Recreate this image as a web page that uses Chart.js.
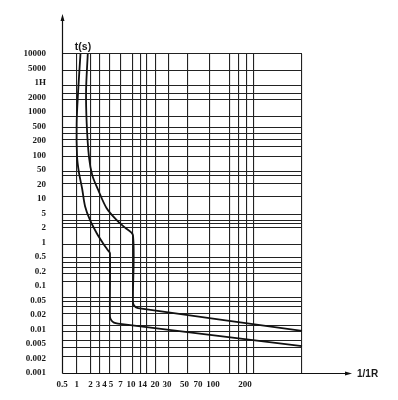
<!DOCTYPE html>
<html>
<head>
<meta charset="utf-8">
<script src="https://cdn.jsdelivr.net/npm/chart.js@4/dist/chart.umd.min.js"></script>
<style>
  html, body { margin: 0; padding: 0; background: #fff; }
  canvas { display: block; }
</style>
</head>
<body>
<canvas id="curva" width="398" height="400"></canvas>
<script>
// tick labels as printed on the sheet
const xLabels = ['0.5', '1', '2', '3', '4', '5', '7', '10', '14', '20', '30', '50', '70', '100', '200'];
const xValues = [0.5, 1, 2, 3, 4, 5, 7, 10, 14, 20, 30, 50, 70, 100, 200];
const yLabels = ['0.001', '0.002', '0.005', '0.01', '0.02', '0.05', '0.1', '0.2', '0.5', '1', '2', '5',
                 '10', '20', '50', '100', '200', '500', '1000', '2000', '1H', '5000', '10000'];
const yValues = [0.001, 0.002, 0.005, 0.01, 0.02, 0.05, 0.1, 0.2, 0.5, 1, 2, 5,
                 10, 20, 50, 100, 200, 500, 1000, 2000, 3600, 5000, 10000];

// left curve (multiple of In, seconds)
const curvaB_I = [1.21, 1.08, 1.0, 1.02, 1.12, 1.31, 1.52, 1.95, 2.8, 3.74, 4.5, 4.83, 4.83, 5.09, 5.56, 6.4, 1000];
const curvaB_t = [10000, 2670, 579, 96, 43, 16.7, 7.1, 3.27, 1.56, 0.97, 0.69, 0.6, 0.0185, 0.0153, 0.0139, 0.0133, 0.0044];

// right curve
const curvaC_I = [1.74, 1.6, 1.65, 1.85, 2.2, 3.04, 4.31, 6.12, 8.16, 10.6, 10.6, 11.1, 12.3, 1000];
const curvaC_t = [10000, 2670, 579, 92.7, 35.6, 15.2, 6.42, 3.27, 2.04, 1.41, 0.045, 0.035, 0.031, 0.0094];

// the printed x axis is not a clean log scale: where each label sits along the width
const xKnotValues = xValues.concat([1000]);
const xKnotPos = [0, 0.061, 0.119, 0.150, 0.177, 0.204, 0.244, 0.2875, 0.335, 0.3875, 0.4375, 0.51, 0.567, 0.629, 0.7625, 1];
const yKnotPos = yValues.map((v, i) => i / (yValues.length - 1));

// printed grid (fraction of width / height)
const xGrid = [0.0625, 0.119, 0.158, 0.2, 0.242, 0.294, 0.327, 0.352, 0.39, 0.442, 0.523, 0.615, 0.7, 0.735, 0.77, 0.8, 1];
const yGrid = [0.051, 0.080, 0.103, 0.129, 0.150, 0.187, 0.208, 0.223, 0.237, 0.288, 0.313, 0.332, 0.347, 0.362,
               0.404, 0.456, 0.470, 0.479, 0.497, 0.552, 0.594, 0.620, 0.633, 0.679, 0.711, 0.732, 0.752, 0.771,
               0.804, 0.857, 0.877, 0.901, 0.948, 1];

function warpDecimal(v, vals, pos) {
    const lv = Math.log(v);
    for (let i = 0; i < vals.length - 1; i++) {
        const a = Math.log(vals[i]), b = Math.log(vals[i + 1]);
        if (lv <= b || i === vals.length - 2) {
            return pos[i] + (pos[i + 1] - pos[i]) * (lv - a) / (b - a);
        }
    }
}

class WarpScale extends Chart.LinearScale {
    static id = 'warp';
    static defaults = {};
    determineDataLimits() {
        const k = this.options.knotValues;
        this.min = k[0];
        this.max = k[k.length - 1];
    }
    buildTicks() {
        return this.options.tickValues.map(v => ({ value: v }));
    }
    getPixelForValue(v) {
        return this.getPixelForDecimal(warpDecimal(v, this.options.knotValues, this.options.knotPos));
    }
    getValueForPixel(p) {
        return this.min;
    }
}
Chart.register(WarpScale);

const corTexto = '#1a1a1a';
const fonteEixo = { family: "'Liberation Serif', serif", size: 9, weight: 'bold' };
const grade = { color: '#222', lineWidth: 1.1, drawTicks: false };

const setas = {
    id: 'setas',
    afterDraw(chart) {
        const { ctx, chartArea: a } = chart;
        ctx.save();
        ctx.strokeStyle = '#111';
        ctx.fillStyle = '#111';
        ctx.lineWidth = 1.2;
        ctx.beginPath();
        ctx.moveTo(a.left + 0.5, a.bottom + 0.5);
        ctx.lineTo(a.left + 0.5, a.top - 36);
        ctx.moveTo(a.left + 0.5, a.bottom + 0.5);
        ctx.lineTo(a.right + 46, a.bottom + 0.5);
        ctx.stroke();
        ctx.beginPath();
        ctx.moveTo(a.left + 0.5, a.top - 40);
        ctx.lineTo(a.left - 1.5, a.top - 33);
        ctx.lineTo(a.left + 2.5, a.top - 33);
        ctx.fill();
        ctx.beginPath();
        ctx.moveTo(a.right + 50, a.bottom + 0.5);
        ctx.lineTo(a.right + 43, a.bottom - 1.5);
        ctx.lineTo(a.right + 43, a.bottom + 2.5);
        ctx.fill();
        ctx.fillStyle = corTexto;
        ctx.textBaseline = 'middle';
        ctx.font = "bold 10.5px 'Liberation Sans', sans-serif";
        ctx.textAlign = 'center';
        ctx.fillText('t(s)', a.left + 21, a.top - 7);
        ctx.font = "bold 10px 'Liberation Sans', sans-serif";
        ctx.textAlign = 'left';
        ctx.fillText('1/1R', a.right + 55, a.bottom + 1);
        ctx.restore();
    }
};

new Chart(document.getElementById('curva'), {
    type: 'line',
    data: {
        datasets: [
            {
                label: 'B',
                data: curvaB_I.map((x, i) => ({ x: x, y: curvaB_t[i] })),
                borderColor: '#111',
                borderWidth: 1.8,
                pointRadius: 0,
                tension: 0.3,
                fill: false,
                xAxisID: 'x',
                yAxisID: 'y'
            },
            {
                label: 'C',
                data: curvaC_I.map((x, i) => ({ x: x, y: curvaC_t[i] })),
                borderColor: '#111',
                borderWidth: 1.8,
                pointRadius: 0,
                tension: 0.3,
                fill: false,
                xAxisID: 'x',
                yAxisID: 'y'
            }
        ]
    },
    options: {
        responsive: false,
        animation: false,
        events: [],
        layout: { padding: { top: 54, right: 96, bottom: 0, left: 0 } },
        plugins: { legend: { display: false }, tooltip: { enabled: false } },
        scales: {
            x: {
                type: 'warp',
                position: 'bottom',
                knotValues: xKnotValues,
                knotPos: xKnotPos,
                tickValues: xValues,
                grid: { display: false },
                border: { display: false },
                ticks: {
                    autoSkip: false, maxRotation: 0, padding: -2,
                    color: corTexto, font: fonteEixo,
                    callback: (v, i) => xLabels[i]
                },
                afterFit: s => { s.height = 27; }
            },
            y: {
                type: 'warp',
                position: 'left',
                knotValues: yValues,
                knotPos: yKnotPos,
                tickValues: yValues,
                grid: { display: false },
                border: { display: false },
                ticks: {
                    autoSkip: false, padding: 8,
                    color: corTexto, font: fonteEixo,
                    callback: (v, i) => yLabels[i]
                },
                afterFit: s => { s.width = 62; }
            },
            xg: {
                type: 'linear',
                position: 'bottom',
                min: 0, max: 1,
                grid: grade,
                border: { display: false },
                ticks: { display: false },
                afterBuildTicks: s => { s.ticks = xGrid.map(v => ({ value: v })); },
                afterFit: s => { s.height = 0; }
            },
            yg: {
                type: 'linear',
                position: 'left',
                min: 0, max: 1,
                grid: grade,
                border: { display: false },
                ticks: { display: false },
                afterBuildTicks: s => { s.ticks = yGrid.map(v => ({ value: v })); },
                afterFit: s => { s.width = 0; }
            }
        }
    },
    plugins: [setas]
});
</script>
</body>
</html>
